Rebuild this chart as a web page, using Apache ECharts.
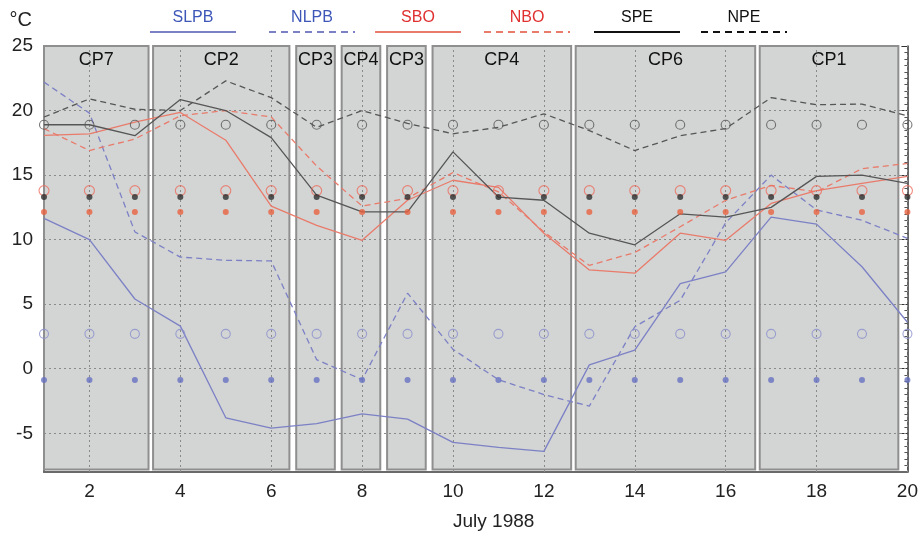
<!DOCTYPE html>
<html>
<head>
<meta charset="utf-8">
<script src="https://cdn.jsdelivr.net/npm/echarts@6/dist/echarts.min.js"></script>
<style>html,body{margin:0;padding:0;background:#fff;}#c{width:921px;height:536px;}</style>
</head>
<body>
<div id="c"></div>
<script>
// ---- data ----
const days = [1,2,3,4,5,6,7,8,9,10,11,12,13,14,15,16,17,18,19,20];
const xTicks = [2,4,6,8,10,12,14,16,18,20];
const yTicks = [-5,0,5,10,15,20,25];
const seriesNames = ['SLPB','NLPB','SBO','NBO','SPE','NPE'];

const SLPB = [11.65,10.0,5.4,3.3,-3.8,-4.6,-4.25,-3.5,-3.9,-5.7,-6.1,-6.4,0.3,1.45,6.6,7.5,11.75,11.2,7.9,3.6];
const NLPB = [22.2,19.8,10.6,8.65,8.4,8.35,0.7,-0.85,5.85,1.5,-0.85,-2.0,-2.9,3.25,5.3,11.3,15.0,12.3,11.5,10.1];
const SBO  = [18.07,18.2,19.1,19.85,17.7,12.6,11.1,9.95,13.05,14.6,14.05,10.5,7.65,7.4,10.5,9.95,12.8,13.8,14.35,14.9];
const NBO  = [18.6,16.9,17.8,19.6,20.0,19.5,15.7,12.6,13.2,15.2,13.7,10.6,8.0,9.0,11.0,13.05,14.2,13.7,15.5,15.9];
const SPE  = [18.9,18.9,18.05,20.85,20.0,17.9,13.45,12.15,12.15,16.8,13.3,13.05,10.5,9.6,12.0,11.75,12.5,14.9,15.0,14.35];
const NPE  = [19.5,20.9,20.1,20.0,22.3,21.0,18.7,20.0,19.0,18.2,18.7,19.75,18.45,16.9,18.05,18.6,21.0,20.45,20.5,19.6];

// reference (climatological) levels drawn as dots at every day
const NPEref  = [18.9,18.9,18.9,18.9,18.9,18.9,18.9,18.9,18.9,18.9,18.9,18.9,18.9,18.9,18.9,18.9,18.9,18.9,18.9,18.9];
const NBOref  = [13.8,13.8,13.8,13.8,13.8,13.8,13.8,13.8,13.8,13.8,13.8,13.8,13.8,13.8,13.8,13.8,13.8,13.8,13.8,13.8];
const SPEref  = [13.3,13.3,13.3,13.3,13.3,13.3,13.3,13.3,13.3,13.3,13.3,13.3,13.3,13.3,13.3,13.3,13.3,13.3,13.3,13.3];
const SBOref  = [12.15,12.15,12.15,12.15,12.15,12.15,12.15,12.15,12.15,12.15,12.15,12.15,12.15,12.15,12.15,12.15,12.15,12.15,12.15,12.15];
const NLPBref = [2.7,2.7,2.7,2.7,2.7,2.7,2.7,2.7,2.7,2.7,2.7,2.7,2.7,2.7,2.7,2.7,2.7,2.7,2.7,2.7];
const SLPBref = [-0.87,-0.87,-0.87,-0.87,-0.87,-0.87,-0.87,-0.87,-0.87,-0.87,-0.87,-0.87,-0.87,-0.87,-0.87,-0.87,-0.87,-0.87,-0.87,-0.87];

// circulation pattern periods
const regimeLabels = ['CP7','CP2','CP3','CP4','CP3','CP4','CP6','CP1'];
const regimeStart  = [1.0, 3.4, 6.55, 7.55, 8.55, 9.55, 12.7, 16.75];
const regimeEnd    = [3.3, 6.4, 7.4, 8.4, 9.4, 12.6, 16.65, 19.8];

// ---- chart ----
const BLUE = '#7c81c5', RED = '#e97b6b', BLACK = '#565656';
const pair = arr => days.map((d, i) => [d, arr[i]]);

function lineSeries(name, arr, color, dashed) {
  return {
    name, type: 'line', data: pair(arr), showSymbol: false, z: 5,
    lineStyle: { color, width: 1.3, type: dashed ? [6, 4] : 'solid' },
    itemStyle: { color }, silent: true
  };
}
function dotSeries(name, arr, color, open, size) {
  return {
    name, type: 'scatter', data: pair(arr), symbol: 'circle', symbolSize: size, z: 6, silent: true,
    itemStyle: open ? { color: 'rgba(0,0,0,0)', borderColor: color, borderWidth: 1.1 } : { color }
  };
}

const legendColors = [BLUE, BLUE, RED, RED, '#111', '#111'];
const legendTextColors = ['#3d56b8', '#3d56b8', '#e03030', '#e03030', '#111', '#111'];
const legendCenters = [193, 312, 418, 527, 637, 744];
const graphics = [];
seriesNames.forEach((n, i) => {
  const cx = legendCenters[i];
  graphics.push({ type: 'text', x: cx, y: 10, style: { text: n, align: 'center', verticalAlign: 'top', fill: legendTextColors[i], font: '16px "Liberation Sans", Arial, sans-serif' }, silent: true });
  graphics.push({ type: 'line', shape: { x1: cx - 43, y1: 32, x2: cx + 43, y2: 32 }, style: { stroke: legendColors[i], lineWidth: 2, lineDash: i % 2 ? [7, 5] : null }, silent: true });
});

const chart = echarts.init(document.getElementById('c'), null, { renderer: 'canvas' });
chart.setOption({
  animation: false,
  backgroundColor: '#fff',
  textStyle: { fontFamily: '"Liberation Sans", Arial, sans-serif' },
  grid: { left: 44, right: 13, top: 46, bottom: 63 },
  graphic: graphics,
  xAxis: [{
    type: 'value', min: 1, max: 20, position: 'bottom',
    name: 'July 1988', nameLocation: 'middle', nameGap: 40,
    nameTextStyle: { fontSize: 19, color: '#222', padding: [0, 0, 0, 36] },
    axisLine: { show: true, onZero: false, lineStyle: { color: '#6a6a6a', width: 2 } },
    axisTick: { show: true, inside: true, length: 6, customValues: xTicks, lineStyle: { color: '#555' } },
    axisLabel: { customValues: xTicks, fontSize: 19, color: '#222', margin: 10 },
    splitLine: { show: false }
  }, {
    type: 'value', min: 1, max: 20, position: 'top',
    axisLine: { show: false, onZero: false },
    axisTick: { show: true, inside: true, length: 6, customValues: xTicks, lineStyle: { color: '#666' } },
    axisLabel: { show: false },
    splitLine: { show: false }
  }],
  yAxis: [{
    type: 'value', min: -8, max: 25,
    name: '°C', nameLocation: 'end', nameGap: 16,
    nameTextStyle: { fontSize: 20, color: '#222', align: 'right', padding: [0, 12, 0, 0] },
    axisLine: { show: true, onZero: false, lineStyle: { color: '#6a6a6a', width: 2 } },
    axisTick: { show: false, customValues: yTicks },
    axisLabel: { customValues: yTicks, fontSize: 19, color: '#222', margin: 11 },
    splitLine: { show: false }
  }, {
    type: 'value', min: -8, max: 25, position: 'right',
    axisLine: { show: true, onZero: false, lineStyle: { color: '#333', width: 1.5 } },
    axisTick: { show: true, inside: true, length: 6, customValues: yTicks, lineStyle: { color: '#333' } },
    minorTick: { show: true, splitNumber: 10, length: 3, lineStyle: { color: '#555' } },
    axisLabel: { show: false },
    splitLine: { show: false }
  }],
  series: [
    {
      name: 'regimes', type: 'line', data: [], z: 1, silent: true,
      markArea: {
        silent: true,
        itemStyle: { color: '#d3d4d4', borderColor: '#8f8f8f', borderWidth: 2, opacity: 1 },
        label: { show: true, position: 'insideTop', distance: 6, fontSize: 18, color: '#111' },
        data: regimeLabels.map((l, i) => [
          { name: l, xAxis: regimeStart[i], yAxis: -7.8 },
          { xAxis: regimeEnd[i], yAxis: 25 }
        ])
      }
    },
    {
      name: 'grid', type: 'line', data: [], z: 2, silent: true,
      markLine: {
        silent: true, symbol: 'none', label: { show: false },
        lineStyle: { color: '#8a8a8a', width: 1, type: [2, 3] },
        data: xTicks.map(v => ({ xAxis: v })).concat(yTicks.filter(v => v < 25).map(v => ({ yAxis: v })))
      }
    },
    lineSeries('SLPB', SLPB, BLUE, false),
    lineSeries('NLPB', NLPB, BLUE, true),
    lineSeries('SBO', SBO, RED, false),
    lineSeries('NBO', NBO, RED, true),
    lineSeries('SPE', SPE, BLACK, false),
    lineSeries('NPE', NPE, BLACK, true),
    dotSeries('NPE ref', NPEref, '#555', true, 9),
    dotSeries('NBO ref', NBOref, '#ec6e5e', true, 10),
    dotSeries('SPE ref', SPEref, '#2e2e2e', false, 6),
    dotSeries('SBO ref', SBOref, '#e8623f', false, 6),
    dotSeries('NLPB ref', NLPBref, '#8a90cc', true, 9),
    dotSeries('SLPB ref', SLPBref, '#6670c0', false, 6)
  ]
});
</script>
</body>
</html>
